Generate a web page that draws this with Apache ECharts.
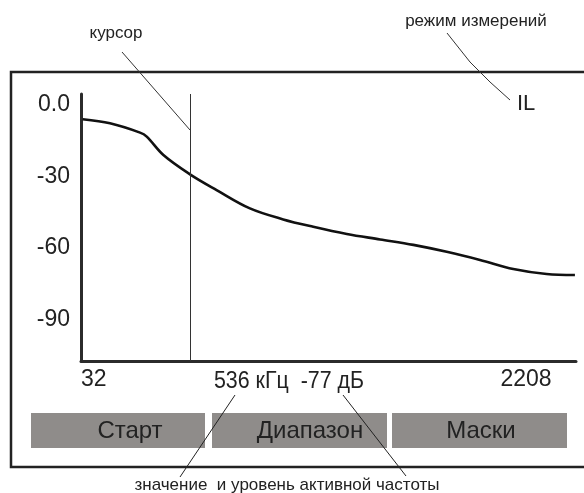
<!DOCTYPE html>
<html><head><meta charset="utf-8">
<script src="https://cdn.jsdelivr.net/npm/echarts@6/dist/echarts.min.js"></script>
<style>html,body{margin:0;padding:0;background:#fff}#c{width:584px;height:493px}</style>
</head><body><div id="c"></div>
<script>
// ---- data ----
const freqs  = [40, 166, 305, 336, 413, 536, 659, 813, 967, 1106, 1261, 1415, 1569, 1723, 1877, 2031, 2185, 2316];
const levels = [-6.0, -7.7, -11.6, -13.3, -21.0, -29.1, -35.7, -43.4, -48.0, -51.1, -54.1, -56.4, -58.7, -61.6, -65.0, -68.8, -70.9, -71.3];
const yTickValues = [0, -30, -60, -90];
const xTickValues = [32, 2208];
const cursorFreq = 536;
const cursorLevel = -77;
const buttonLabels = ['Старт', 'Диапазон', 'Маски'];
const modeLabel = 'IL';
const noteCursor = 'курсор';
const noteMode = 'режим измерений';
const noteBottom = 'значение  и уровень активной частоты';

const FONT = '"Liberation Sans Narrow", "Arial Narrow", "Liberation Sans", Arial, sans-serif';
const TXT = '#222';

const chart = echarts.init(document.getElementById('c'), null, {renderer: 'canvas'});

const btnX = [31, 212, 392], btnW = [174, 175, 175], btnTextX = [130, 310, 481];
const graphics = [
  {type: 'rect', z: 1, shape: {x: 11, y: 72, width: 640, height: 395}, style: {fill: 'none', stroke: '#222', lineWidth: 2.5}}
];
buttonLabels.forEach((t, i) => {
  graphics.push({type: 'rect', z: 2, shape: {x: btnX[i], y: 413, width: btnW[i], height: 35}, style: {fill: '#8f8c8a'}});
  graphics.push({type: 'text', z: 3, x: btnTextX[i], y: 431, style: {text: t, font: '24px ' + FONT, fill: TXT, align: 'center', verticalAlign: 'middle'}});
});
graphics.push(
  {type: 'text', z: 3, x: 289, y: 382, scaleX: 0.93, style: {text: cursorFreq + ' кГц  ' + cursorLevel + ' дБ', font: '23px ' + FONT, fill: TXT, align: 'center', verticalAlign: 'middle'}},
  {type: 'text', z: 3, x: 116, y: 33, style: {text: noteCursor, font: '17px ' + FONT, fill: TXT, align: 'center', verticalAlign: 'middle'}},
  {type: 'text', z: 3, x: 476, y: 21, style: {text: noteMode, font: '17px ' + FONT, fill: TXT, align: 'center', verticalAlign: 'middle'}},
  {type: 'text', z: 3, x: 517, y: 104, style: {text: modeLabel, font: '22px ' + FONT, fill: TXT, align: 'left', verticalAlign: 'middle'}},
  {type: 'text', z: 3, x: 287, y: 485, style: {text: noteBottom, font: '17px ' + FONT, fill: TXT, align: 'center', verticalAlign: 'middle'}},
  {type: 'polyline', z: 5, shape: {points: [[122, 52], [190, 130]]}, style: {stroke: '#333', lineWidth: 1, fill: 'none'}},
  {type: 'polyline', z: 5, shape: {points: [[447, 33], [470, 62], [490, 82], [510, 100]]}, style: {stroke: '#333', lineWidth: 1, fill: 'none'}},
  {type: 'polyline', z: 5, shape: {points: [[235, 395], [180, 477]]}, style: {stroke: '#222', lineWidth: 1, fill: 'none'}},
  {type: 'polyline', z: 5, shape: {points: [[343, 395], [406, 476]]}, style: {stroke: '#222', lineWidth: 1, fill: 'none'}}
);

chart.setOption({
  animation: false,
  backgroundColor: '#fff',
  grid: {left: 81, top: 94, right: 8, bottom: 132, containLabel: false},
  xAxis: {
    type: 'value', min: 32, max: 2321,
    axisLine: {onZero: false, lineStyle: {color: '#2b2b2b', width: 3}},
    axisTick: {show: false}, splitLine: {show: false},
    axisLabel: {
      customValues: xTickValues, margin: 7,
      alignMinLabel: 'left', alignMaxLabel: 'right',
      fontFamily: FONT, fontSize: 23, color: TXT,
      formatter: v => String(v)
    }
  },
  yAxis: {
    type: 'value', min: -107.4, max: 4.6,
    axisLine: {show: true, onZero: false, lineStyle: {color: '#2b2b2b', width: 3}},
    axisTick: {show: false}, splitLine: {show: false},
    axisLabel: {
      customValues: yTickValues, margin: 11,
      fontFamily: FONT, fontSize: 23, color: TXT,
      formatter: v => v === 0 ? '0.0' : String(v)
    }
  },
  series: [{
    type: 'line', data: freqs.map((f, i) => [f, levels[i]]),
    smooth: 0.35, symbol: 'none',
    lineStyle: {color: '#111', width: 2.6},
    markLine: {
      silent: true, symbol: ['none', 'none'], label: {show: false},
      lineStyle: {color: '#333', width: 1, type: 'solid'},
      data: [{xAxis: cursorFreq}]
    }
  }],
  graphic: graphics
});
</script></body></html>
